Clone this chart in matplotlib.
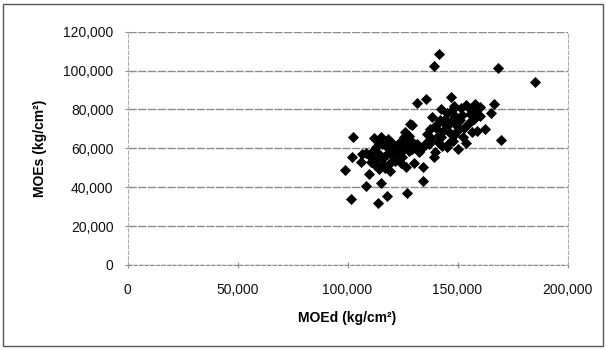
import matplotlib
matplotlib.use("Agg")
import matplotlib.pyplot as plt
from matplotlib.ticker import FuncFormatter, MultipleLocator
from matplotlib.patches import Rectangle

plt.rcParams['font.family'] = ['Liberation Sans', 'DejaVu Sans']

# Dynamic MOE vs static MOE, thousands of kg/cm2
moed_k = [
    141.5, 139.2, 168.4, 185.0, 147.1, 135.9, 131.6, 153.8, 157.8, 160.2,
    166.4, 165.2, 169.9, 162.6, 102.3, 101.9, 98.9, 106.3, 109.8, 108.6,
    115.1, 101.6, 113.7, 117.8, 127.2, 134.3, 134.3, 130.4, 119.2, 114.2,
    128.6, 129.2,
    108.5, 110.2, 111.0, 112.1, 113.0, 113.4, 114.5, 115.1, 115.5, 116.0,
    116.8, 117.8, 118.6, 118.2, 119.5, 120.0, 120.8, 121.3, 122.0, 122.5,
    123.0, 123.5, 124.0, 124.8, 125.2, 125.7, 126.2, 126.5, 126.8, 127.4,
    127.8, 128.0, 128.5, 129.0, 129.5, 130.0, 131.0, 131.8, 132.5, 124.5,
    112.5, 110.5, 117.0, 121.5, 119.0, 114.0, 125.5, 106.5,
    134.5, 135.5, 136.2, 137.1, 138.0, 138.5, 139.2, 139.7, 140.0, 140.6,
    141.0, 141.5, 142.0, 142.4, 142.4, 143.0, 143.5, 144.1, 144.5, 145.0,
    145.3, 145.9, 146.5, 147.0, 147.6, 148.0, 148.5, 149.0, 149.5, 150.3,
    150.3, 151.0, 152.0, 152.5, 153.0, 153.8, 154.7, 155.5, 156.0, 156.4,
    157.3, 158.0, 159.0, 160.0, 137.5, 146.0, 151.5, 155.0, 148.5,
]
moes_k = [
    108.5, 102.6, 101.4, 94.0, 86.3, 85.3, 83.4, 82.4, 82.9, 81.5,
    82.9, 78.3, 64.4, 70.1, 65.8, 55.6, 48.7, 53.0, 46.7, 40.7,
    42.2, 33.7, 32.1, 35.6, 36.8, 43.2, 50.4, 52.6, 48.4, 49.6,
    72.6, 71.8,
    57.5, 56.0, 58.3, 65.3, 60.5, 54.7, 57.0, 65.8, 62.0, 52.1,
    55.5, 57.3, 65.0, 60.0, 52.6, 58.5, 62.3, 55.6, 60.0, 57.0,
    58.1, 63.0, 61.0, 55.6, 59.0, 60.7, 68.4, 50.4, 64.5, 63.2,
    66.5, 58.5, 61.5, 63.8, 59.5, 62.0, 60.5, 62.4, 58.0, 52.5,
    51.5, 53.0, 50.0, 53.5, 63.5, 64.0, 66.0, 57.0,
    60.5, 63.0, 67.5, 62.4, 65.5, 76.1, 55.6, 58.1, 72.0, 70.1,
    63.5, 67.0, 74.5, 80.3, 65.8, 61.0, 69.0, 75.2, 72.5, 78.0,
    60.7, 71.8, 68.0, 74.0, 79.5, 64.0, 66.7, 76.5, 72.0, 69.2,
    59.5, 74.5, 76.9, 66.0, 70.5, 62.7, 72.6, 77.8, 74.0, 68.4,
    75.2, 79.0, 68.7, 76.5, 70.0, 63.0, 80.5, 81.0, 82.0,
]
moed = [v * 1000 for v in moed_k]
moes = [v * 1000 for v in moes_k]

fig = plt.figure(figsize=(6.06, 3.5), dpi=100)
ax = fig.add_axes([0.2104, 0.2429, 0.7261, 0.6665])

grid_color = '#8c8c8c'
ax.set_xlim(0, 200000)
ax.set_ylim(0, 120000)
ax.xaxis.set_major_locator(MultipleLocator(50000))
ax.yaxis.set_major_locator(MultipleLocator(20000))
fmt = FuncFormatter(lambda v, p: f"{int(v):,}")
ax.xaxis.set_major_formatter(fmt)
ax.yaxis.set_major_formatter(fmt)

ax.grid(axis='y', color=grid_color, lw=1.0, ls=(0, (6, 1)))
ax.set_axisbelow(True)

for side in ('left', 'right', 'bottom'):
    ax.spines[side].set_color('#b0b0b0')
    ax.spines[side].set_linestyle((0, (3, 2)))
    ax.spines[side].set_linewidth(0.8)
ax.spines['top'].set_visible(False)
ax.spines['bottom'].set_color(grid_color)

ax.tick_params(axis='both', direction='inout', length=4, color='#909090',
               labelsize=10, labelcolor='#111111')
ax.tick_params(axis='x', pad=11)
ax.tick_params(axis='y', pad=8)

ax.scatter(moed, moes, marker='D', s=32, color='black', linewidths=0, zorder=3)

ax.set_xlabel('MOEd (kg/cm²)', fontsize=10, fontweight='bold', labelpad=10)
ax.set_ylabel('MOEs (kg/cm²)', fontsize=10, fontweight='bold', labelpad=12)

# outer chart frame
fig.patches.append(Rectangle((3 / 606, 4 / 350), 600 / 606, 342 / 350,
                             transform=fig.transFigure, fill=False,
                             edgecolor='#555555', lw=1.0))

fig.savefig('out.png', dpi=100, facecolor='white')
